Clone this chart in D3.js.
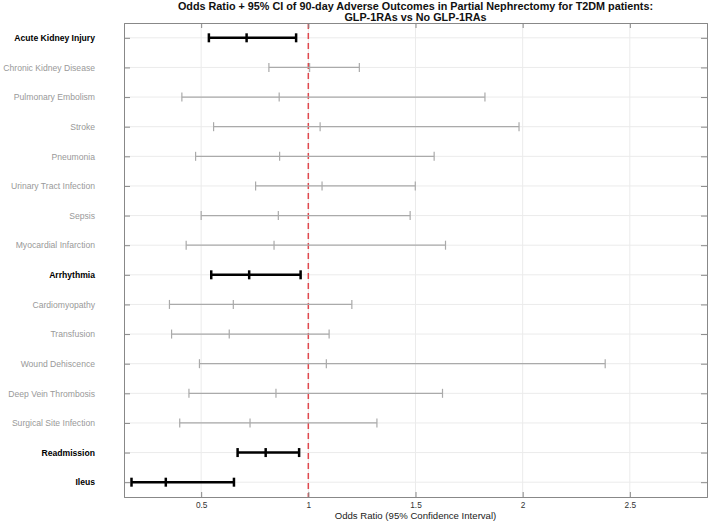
<!DOCTYPE html>
<html>
<head>
  <meta charset="utf-8" />
  <title>Odds Ratio forest plot</title>
  <style>
    body { margin: 0; background: #fff; }
    svg { font-family: "Liberation Sans", Arial, sans-serif; }
  </style>
</head>
<body>
  <svg id="chart" width="709" height="522"></svg>
  <script src="https://cdn.jsdelivr.net/npm/d3@7"></script>
  <script>
    // data
    var outcomes = ['Acute Kidney Injury', 'Chronic Kidney Disease', 'Pulmonary Embolism', 'Stroke',
      'Pneumonia', 'Urinary Tract Infection', 'Sepsis', 'Myocardial Infarction', 'Arrhythmia',
      'Cardiomyopathy', 'Transfusion', 'Wound Dehiscence', 'Deep Vein Thrombosis',
      'Surgical Site Infection', 'Readmission', 'Ileus']
    var oddsRatio = [0.712, 1.006, 0.864, 1.055, 0.866, 1.064, 0.860, 0.840, 0.724, 0.650, 0.631, 1.084, 0.849, 0.728, 0.801, 0.335]
    var ciLower = [0.536, 0.816, 0.410, 0.558, 0.474, 0.754, 0.500, 0.430, 0.547, 0.352, 0.362, 0.492, 0.443, 0.400, 0.670, 0.175]
    var ciUpper = [0.943, 1.238, 1.824, 1.983, 1.587, 1.499, 1.475, 1.640, 0.964, 1.203, 1.097, 2.385, 1.626, 1.320, 0.957, 0.653]
    var xTicks = [0.5, 1, 1.5, 2, 2.5]
    var xDomain = [0.14, 2.86]

    var margin = { top: 23, right: 2, bottom: 25, left: 124 }
    var width = 709, height = 522
    var svg = d3.select('#chart')

    var x = d3.scaleLinear().domain(xDomain).range([margin.left, width - margin.right])
    var y = d3.scalePoint().domain(outcomes).range([margin.top, height - margin.bottom]).padding(0.5)

    var rows = outcomes.map(function (d, i) {
      return { name: d, or: oddsRatio[i], lo: ciLower[i], hi: ciUpper[i], sig: ciUpper[i] < 1 }
    })

    // grid
    var grid = svg.append('g')
    grid.selectAll('line.v').data(xTicks).enter().append('line')
      .attr('x1', function (d) { return x(d) }).attr('x2', function (d) { return x(d) })
      .attr('y1', margin.top).attr('y2', height - margin.bottom)
      .attr('stroke', '#ebebeb').attr('stroke-width', 1)
    grid.selectAll('line.h').data(outcomes).enter().append('line')
      .attr('x1', margin.left).attr('x2', width - margin.right)
      .attr('y1', function (d) { return y(d) }).attr('y2', function (d) { return y(d) })
      .attr('stroke', '#ebebeb').attr('stroke-width', 1)

    // reference line at OR = 1
    svg.append('line')
      .attr('x1', x(1)).attr('x2', x(1))
      .attr('y1', margin.top).attr('y2', height - margin.bottom)
      .attr('stroke', '#e0484d').attr('stroke-width', 1.5)
      .attr('stroke-dasharray', '6,4')

    // error bars
    var bars = svg.append('g').selectAll('g').data(rows).enter().append('g')
      .attr('stroke', function (d) { return d.sig ? '#000' : '#aaa' })
      .attr('stroke-width', function (d) { return d.sig ? 2.5 : 1.2 })
    bars.append('line')
      .attr('x1', function (d) { return x(d.lo) }).attr('x2', function (d) { return x(d.hi) })
      .attr('y1', function (d) { return y(d.name) }).attr('y2', function (d) { return y(d.name) })
    ;['lo', 'or', 'hi'].forEach(function (k) {
      bars.append('line')
        .attr('x1', function (d) { return x(d[k]) }).attr('x2', function (d) { return x(d[k]) })
        .attr('y1', function (d) { return y(d.name) - 4.5 }).attr('y2', function (d) { return y(d.name) + 4.5 })
    })

    // axes (ticks inside, box)
    var bottomAxis = d3.axisBottom(x).tickValues(xTicks).tickSize(-5).tickPadding(5).tickFormat(d3.format('~g'))
    var gx = svg.append('g').attr('transform', 'translate(0,' + (height - margin.bottom) + ')').call(bottomAxis)
    var topAxis = d3.axisTop(x).tickValues(xTicks).tickSize(-5).tickFormat('')
    var gxt = svg.append('g').attr('transform', 'translate(0,' + margin.top + ')').call(topAxis)
    var leftAxis = d3.axisLeft(y).tickSize(-6).tickPadding(29)
    var gy = svg.append('g').attr('transform', 'translate(' + margin.left + ',0)').call(leftAxis)
    var rightAxis = d3.axisRight(y).tickSize(-6).tickFormat('')
    var gyr = svg.append('g').attr('transform', 'translate(' + (width - margin.right) + ',0)').call(rightAxis)

    ;[gx, gxt, gy, gyr].forEach(function (g) {
      g.select('.domain').attr('stroke', '#888').attr('stroke-width', 1)
      g.selectAll('.tick line').attr('stroke', '#888')
    })
    gx.selectAll('.tick text').attr('font-size', 8.3).attr('fill', '#333')
    gy.selectAll('.tick text')
      .attr('font-size', 8.6)
      .attr('font-weight', function (d, i) { return rows[i].sig ? 'bold' : 'normal' })
      .attr('fill', function (d, i) { return rows[i].sig ? '#000' : '#999' })

    // titles
    var cx = (margin.left + width - margin.right) / 2
    svg.append('text').attr('x', cx).attr('y', 10).attr('text-anchor', 'middle')
      .attr('font-size', 10.8).attr('font-weight', 'bold').attr('fill', '#111')
      .text('Odds Ratio + 95% CI of 90-day Adverse Outcomes in Partial Nephrectomy for T2DM patients:')
    svg.append('text').attr('x', cx).attr('y', 21).attr('text-anchor', 'middle')
      .attr('font-size', 10.8).attr('font-weight', 'bold').attr('fill', '#111')
      .text('GLP-1RAs vs No GLP-1RAs')
    svg.append('text').attr('x', cx).attr('y', 519).attr('text-anchor', 'middle')
      .attr('font-size', 9.6).attr('fill', '#222')
      .text('Odds Ratio (95% Confidence Interval)')
  </script>
</body>
</html>
